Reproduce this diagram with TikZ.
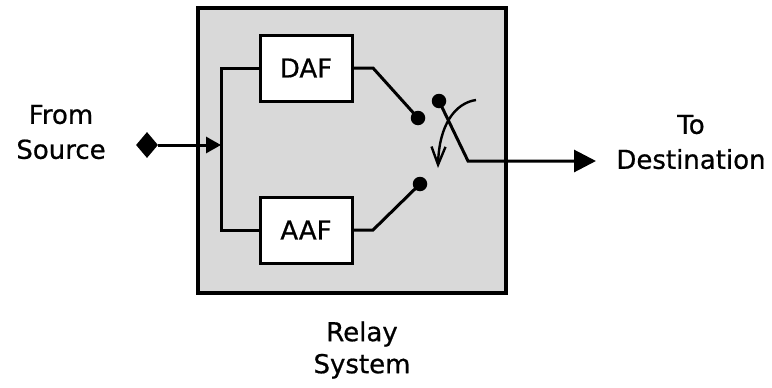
\documentclass[tikz,border=0pt]{standalone}
\usepackage{fontspec}
\setmainfont{DejaVu Sans}[FakeBold=0.7]
\usetikzlibrary{arrows.meta,shapes.geometric}
\tikzset{
  wire/.style={line width=3pt},
  blockbox/.style={draw,fill=white,line width=3pt,minimum width=92pt,minimum height=66pt,inner sep=0pt,font=\fontsize{26}{30}\selectfont},
  contact/.style={circle,fill=black,inner sep=0pt,minimum size=14.5pt},
  lbl/.style={align=center,font=\fontsize{26}{35}\selectfont,inner sep=0pt},
}
\begin{document}
\begin{tikzpicture}[x=1pt,y=-1pt]
\useasboundingbox (0,0) rectangle (772,388);
% outer system box
\node[draw,fill={rgb,255:red,217;green,217;blue,217},line width=4.6pt,minimum width=308pt,minimum height=285pt,inner sep=0pt] (sys) at (352,150.5) {};
% blocks
\node[blockbox] (daf) at (306,68) {DAF};
\node[blockbox] (aaf) at (306,230) {AAF};
% bus
\coordinate (bt) at (221,68);
\coordinate (bb) at (221,230);
\coordinate (bm) at (221,145);
\draw[wire,line join=miter] (daf.west) -- (bt) -- (bb) -- (aaf.west);
% input
\node[diamond,fill=black,inner sep=0pt,minimum width=22pt,minimum height=26pt] (src) at (147,145) {};
\draw[wire,-{Triangle[length=15pt,width=16pt]}] (src) -- (bm);
% contacts
\node[contact] (c1) at (418,118) {};
\node[contact] (c2) at (420,184) {};
\node[contact] (piv) at (439,101) {};
\coordinate (d1) at (373,68);
\coordinate (a1) at (373,230);
\draw[wire] (daf.east) -- (d1) -- (c1.center);
\draw[wire] (aaf.east) -- (a1) -- (c2.center);
% switch arm and output
\coordinate (knee) at (468,161);
\coordinate (dst) at (596,161);
\draw[wire,-{Triangle[length=22pt,width=22pt]}] (piv.center) -- (knee) -- (dst);
% curved motion arrow
\coordinate (cs) at (476,100);
\coordinate (ce) at (438,168);
\draw[line width=2.4pt,-{Straight Barb[length=18pt,width=14pt]}] (cs) .. controls (455,103) and (439,125) .. (ce);
% labels
\node[lbl] (from) at (61,132) {From\\Source};
\node[lbl] (to) at (691,142) {To\\Destination};
\node[lbl,font=\fontsize{26}{32}\selectfont] (relay) at (362,350) {Relay\\System};
\end{tikzpicture}
\end{document}
